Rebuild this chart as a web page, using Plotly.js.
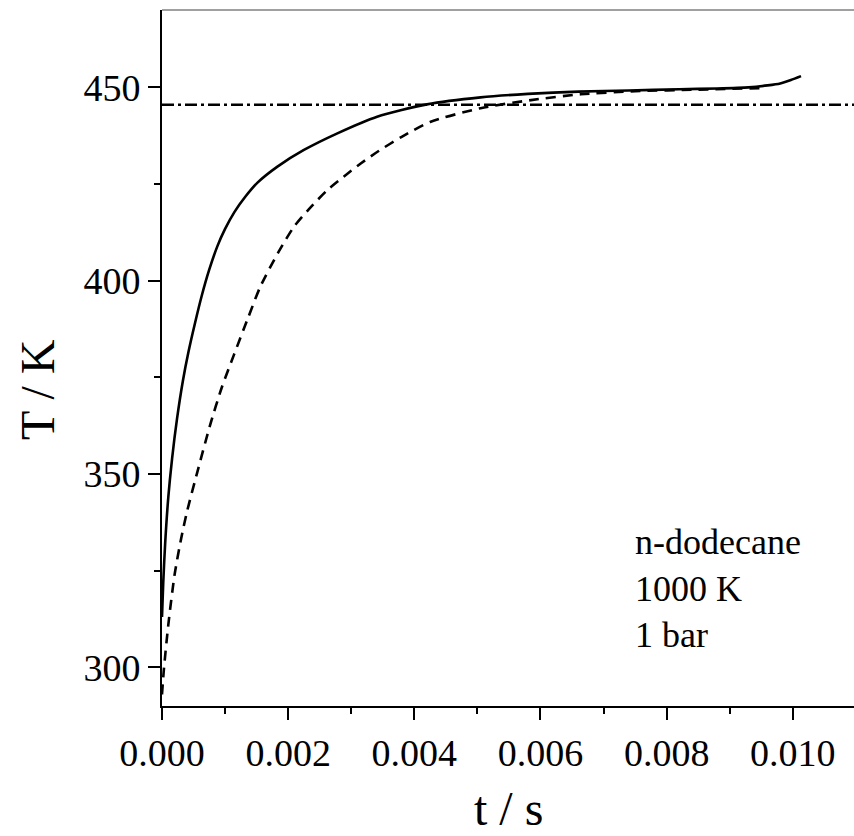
<!DOCTYPE html>
<html>
<head>
<meta charset="utf-8">
<script src="https://cdn.plot.ly/plotly-3.0.1.min.js"></script>
<style>html,body{margin:0;padding:0;background:#fff;}#chart{width:854px;height:836px;}</style>
</head>
<body>
<div id="chart"></div>
<script>
// Solid curve (time in s, temperature in K)
const solidTime = [0, 0.00002, 0.00005, 0.0001, 0.00016, 0.00024, 0.00033, 0.00042, 0.00052, 0.00063, 0.00075, 0.00088, 0.001, 0.00115, 0.00132, 0.00151, 0.00183, 0.00225, 0.00278, 0.00341, 0.0042, 0.00505, 0.0058, 0.0066, 0.0074, 0.0082, 0.0088, 0.0093, 0.0096, 0.0098, 0.00997, 0.01013];
const solidTemp = [313, 322, 332, 344, 354, 364.5, 374, 381.6, 388.8, 396.1, 402.9, 409.0, 413.4, 417.8, 421.7, 425.3, 429.5, 433.8, 438.1, 442.4, 445.6, 447.4, 448.3, 448.9, 449.2, 449.5, 449.7, 450.0, 450.5, 451.0, 451.9, 452.9];

// Dashed curve
const dashedTime = [0, 0.00003, 0.0001, 0.0002, 0.0003, 0.0004, 0.00056, 0.00076, 0.00095, 0.00114, 0.00136, 0.00156, 0.00185, 0.00209, 0.00233, 0.00262, 0.00288, 0.00315, 0.00344, 0.0038, 0.00426, 0.00505, 0.00585, 0.00664, 0.0075, 0.0085, 0.0095];
const dashedTemp = [293, 299.5, 311, 324, 333, 340.5, 350.5, 362.5, 372.5, 380.8, 390.2, 398.5, 407.5, 413.9, 418.5, 423.4, 426.9, 430.3, 433.6, 437.2, 441.1, 444.6, 446.7, 448.2, 449.0, 449.4, 449.8];

// Dash-dot reference level
const refTemp = 445.5;
const refTime = [0, 0.011];

const annotationLines = ["n-dodecane", "1000 K", "1 bar"];
const xTitle = "t / s";
const yTitle = "T / K";

const font = "Liberation Serif, Times New Roman, serif";

const traces = [
  {x: dashedTime, y: dashedTemp, mode: "lines", line: {color: "#000", width: 2.6, dash: "10px,7px", shape: "spline", smoothing: 0.7}, showlegend: false, hoverinfo: "skip"},
  {x: solidTime, y: solidTemp, mode: "lines", line: {color: "#000", width: 2.6, shape: "spline", smoothing: 0.7}, showlegend: false, hoverinfo: "skip"},
  {x: refTime, y: refTime.map(() => refTemp), mode: "lines", line: {color: "#000", width: 2.5, dash: "12px,4px,3px,4px"}, showlegend: false, hoverinfo: "skip"}
];

const annYs = [0.2351, 0.1675, 0.1014];
const annotations = annotationLines.map((t, i) => ({
  text: t, xref: "paper", yref: "paper", x: 0.6806, y: annYs[i],
  xanchor: "left", yanchor: "middle", showarrow: false,
  font: {family: font, size: 36, color: "#000"}
}));
annotations.push({
  text: yTitle, xref: "paper", yref: "paper", x: -0.1806, y: 0.454,
  xanchor: "center", yanchor: "middle", textangle: -90, showarrow: false,
  font: {family: font, size: 48, color: "#000"}
});
annotations.push({
  text: xTitle, xref: "paper", yref: "paper", x: 0.5, y: -0.1466,
  xanchor: "center", yanchor: "middle", showarrow: false,
  font: {family: font, size: 48, color: "#000"}
});

const layout = {
  width: 854, height: 836,
  margin: {l: 162, r: 0, t: 10, b: 130},
  paper_bgcolor: "#fff", plot_bgcolor: "#fff",
  font: {family: font, color: "#000"},
  xaxis: {
    range: [0, 0.01097], showgrid: false, zeroline: false,
    showline: true, linecolor: "#000", linewidth: 2,
    ticks: "outside", ticklen: 12, tickwidth: 2, tickcolor: "#000",
    dtick: 0.002, tick0: 0, tickformat: ".3f",
    tickfont: {family: font, size: 38, color: "#000"},
    minor: {dtick: 0.001, ticks: "outside", ticklen: 6, tickwidth: 2, tickcolor: "#000", showgrid: false}
  },
  yaxis: {
    range: [290, 470], showgrid: false, zeroline: false,
    showline: true, linecolor: "#000", linewidth: 2,
    ticks: "outside", ticklen: 12, tickwidth: 2, tickcolor: "#000",
    dtick: 50, tick0: 300,
    tickfont: {family: font, size: 38, color: "#000"},
    minor: {dtick: 25, ticks: "outside", ticklen: 6, tickwidth: 2, tickcolor: "#000", showgrid: false}
  },
  shapes: [{type: "line", xref: "paper", yref: "paper", x0: 0, x1: 1, y0: 1, y1: 1, line: {color: "#808080", width: 1.5}}],
  annotations: annotations
};

Plotly.newPlot("chart", traces, layout, {displayModeBar: false, staticPlot: true});
</script>
</body>
</html>
